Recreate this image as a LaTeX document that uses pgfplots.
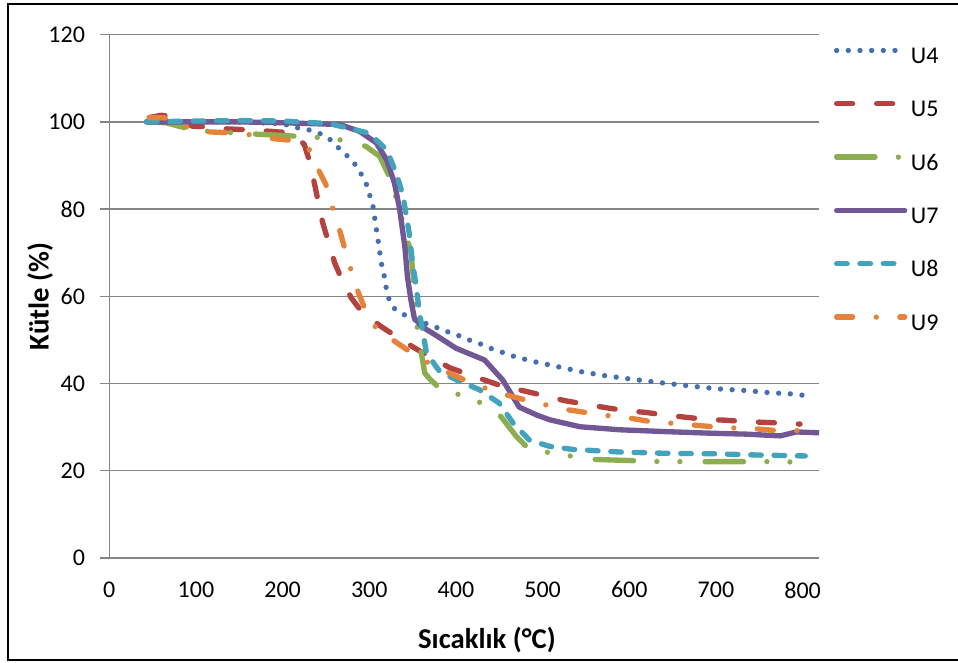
\documentclass[border=0pt]{standalone}
\usepackage{fontspec}
\setmainfont{Carlito}
\usepackage{pgfplots}
\pgfplotsset{compat=1.18}
\definecolor{cU4}{HTML}{4470B2}
\definecolor{cU5}{HTML}{B4433F}
\definecolor{cU6}{HTML}{8DAE50}
\definecolor{cU7}{HTML}{715793}
\definecolor{cU8}{HTML}{43A3BC}
\definecolor{cU9}{HTML}{E5833A}
\definecolor{gridgray}{HTML}{868686}
\begin{document}
\begin{tikzpicture}
\begin{axis}[
  anchor=south west, at={(0pt,0pt)},
  scale only axis, width=532.3pt, height=392.5pt,
  xmin=0, xmax=819, ymin=0, ymax=120,
  xtick={0,100,...,800}, ytick={0,20,...,120},
  axis x line=bottom, axis y line=left,
  axis line style={-, draw=gridgray, line width=1pt},
  ymajorgrids, major grid style={draw=gridgray, line width=1pt},
  tick align=outside, major tick length=6.75pt,
  xtick style={draw=none}, ytick style={draw=gridgray, line width=1pt},
  tick label style={font=\fontsize{18}{20}\selectfont},
  /pgf/number format/assume math mode=true,
  yticklabel shift=8pt,
  xticklabel shift=7.5pt,
  xlabel={\textbf{Sıcaklık (°C)}},
  ylabel={\textbf{Kütle (\%)}},
  label style={font=\fontsize{21.5}{24}\selectfont},
  xlabel style={at={(axis description cs:0.532,-0.157)}, anchor=center},
  ylabel style={at={(axis description cs:-0.0976,0.5)}, anchor=center},
  every axis plot/.append style={line width=4pt, line cap=round, line join=round},
  legend cell align=left,
  legend style={at={(1.015,0.981)}, anchor=north west, draw=none, fill=none,
    font=\fontsize{18}{20}\selectfont, row sep=24pt, column sep=2.75pt,
    nodes={inner sep=0pt, text height=12pt, text depth=4pt}},
  legend image code/.code={\draw[#1] (0pt,5.8pt) -- (51pt,5.8pt);},
]
% U4
\addplot[cU4, dash pattern=on 0pt off 8.75pt] coordinates {
(43,100)(100,100)(150,100)(200,99.6)(215,98.7)(228,98.3)(241,97.5)(253,96.3)(262,94.5)(272,92.7)(282,90.7)(289,88.6)(296,86.1)(300,83.5)(304,81)(306,78.3)(308,75.6)(310,73)(312,70.2)(314,67.5)(317,64.9)(319,62.4)(322,59.7)(327.5,57.4)(338,56)(354,54.5)(365,53.8)(377,52.9)(390,51.9)(403,51)(415,50)(428,49.1)(441,48)(453,47.2)(466,46.3)(479,45.6)(493,44.9)(519,43.8)(545,42.7)(572,41.8)(599,41.1)(627,40.4)(654,39.8)(681,39.2)(708,38.7)(735,38.4)(762,37.9)(789,37.6)(805,37.2)
};
\addlegendentry{U4}
% U5
\addplot[cU5, dash pattern=on 12pt off 18pt] coordinates {
(46,101)(60,101.5)(75,101.3)(96,99)(112,98.9)(135,98.4)(158,98.2)(181,97.9)(202,97.6)(215,96.8)(225,94.8)(231,91)(237,85.6)(246,77)(252,73)(260,67.7)(268,64)(279,59.7)(291,56.5)(312,53.3)(331,50.8)(352,48.2)(369,46.2)(393,43.6)(413,42.2)(436,40.6)(452,39.5)(481,38.2)(502,37.2)(525,36.1)(548,35.3)(572,34.5)(595,33.8)(618,33.4)(641,32.8)(664,32.3)(687,31.8)(710,31.6)(733,31.3)(756,31.1)(780,30.9)(797,30.7)
};
\addlegendentry{U5}
% U6
\addplot[cU6, dash pattern=on 28.8pt off 17.5pt on 0pt off 17.3pt on 0pt off 18.9pt] coordinates {
(43,100)(65,99.8)(92,98.4)(115,97.8)(144,97.5)(169,97.2)(217,96.7)(243,96.4)(270,95.8)(296,94.4)(312,92.1)(323,87.5)(332,82)(340,76)(348,70)(352,62)(355,53.5)(358,48.5)(360,47)(364,42.4)(370,41)(379,39.3)(404,37.4)(430,35.5)(452,32.4)(470,27.8)(481,25.6)(508,24.1)(535,23.3)(560,22.6)(608,22.3)(635,22.1)(687,22.1)(735,22.1)(762,22.1)(790,22)
};
\addlegendentry{U6}
% U7
\addplot[cU7] coordinates {
(43,100)(100,100)(150,100)(200,99.8)(266,99.4)(289,97.8)(308,95.2)(320,91.3)(329,86)(335,80)(341,71.4)(344,64.5)(348,59.2)(352,55)(361,53)(379,50.8)(400,48.1)(433,45.4)(454,40.8)(473,34.6)(493,32.8)(508,31.7)(543,30.1)(589,29.4)(639,29)(696,28.6)(735,28.4)(774,28)(793,28.9)(820,28.7)
};
\addlegendentry{U7}
% U8
\addplot[cU8, dash pattern=on 7.9pt off 9.6pt] coordinates {
(43,100)(100,100.2)(150,100.3)(200,100.2)(254,99.6)(300,97.4)(320,93.6)(331,88.3)(339,83)(346,74.5)(350,67.6)(354,62.3)(358,56.1)(362,51.6)(366,47)(381,42.8)(404,40.5)(427,38.6)(450,35.5)(466,30.9)(485,27)(508,25.6)(535,24.9)(562,24.6)(589,24.3)(643,24)(696,23.9)(751,23.6)(803,23.4)
};
\addlegendentry{U8}
% U9
\addplot[cU9, dash pattern=on 12pt off 17.7pt on 0pt off 17.7pt] coordinates {
(46,101)(69,100.9)(92,98.6)(115,97.7)(141,97.5)(165,97)(187,96.2)(208,95.8)(230,94)(240,89.5)(250,85.6)(257,80.6)(265,75.7)(271,71.4)(278,66.6)(286,61.5)(294,57.6)(306,53.2)(327,50)(344,47.7)(366,45)(389,42.7)(410,40.8)(433,39)(458,37.4)(479,36.3)(504,35.1)(529,34)(552,33.3)(577,32.6)(600,32.1)(624,31.3)(649,30.9)(673,30.5)(696,30.1)(722,29.8)(747,29.6)(771,29.2)(796,29.2)
};
\addlegendentry{U9}
\end{axis}
\draw[black, line width=1.2pt] (-76pt,-76.5pt) rectangle (644pt,415.5pt);
\pgfresetboundingbox
\useasboundingbox (-82pt,-78.75pt) rectangle (636.5pt,418.5pt);
\end{tikzpicture}
\end{document}
